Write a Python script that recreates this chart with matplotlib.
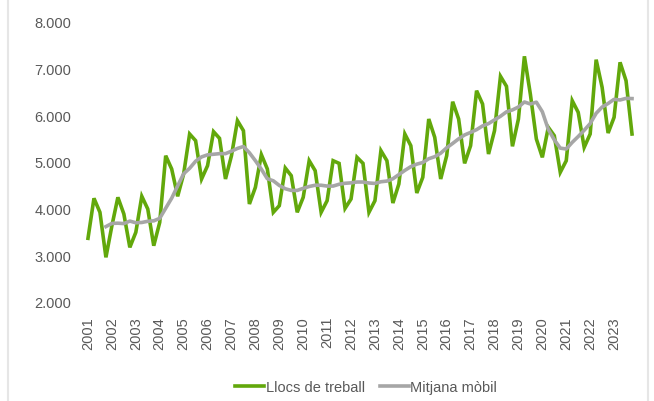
import matplotlib.pyplot as plt
from matplotlib.lines import Line2D
from matplotlib.ticker import FuncFormatter

# Quarterly series 2001 Q1 - 2023 Q4
YEARS = list(range(2001, 2024))

LLOCS = [
    3365, 4222, 3922, 2957,  # 2001
    3635, 4243, 3886, 3171,  # 2002
    3493, 4265, 3993, 3206,  # 2003
    3707, 5135, 4850, 4265,  # 2004
    4743, 5600, 5457, 4636,  # 2005
    4921, 5650, 5507, 4636,  # 2006
    5135, 5885, 5671, 4100,  # 2007
    4457, 5157, 4850, 3922,  # 2008
    4064, 4871, 4707, 3922,  # 2009
    4243, 5028, 4814, 3922,  # 2010
    4171, 5028, 4971, 4007,  # 2011
    4207, 5100, 4971, 3922,  # 2012
    4171, 5243, 5028, 4121,  # 2013
    4529, 5600, 5350, 4336,  # 2014
    4671, 5921, 5529, 4636,  # 2015
    5135, 6292, 5921, 4971,  # 2016
    5350, 6528, 6243, 5171,  # 2017
    5671, 6836, 6622, 5336,  # 2018
    5921, 7265, 6450, 5493,  # 2019
    5100, 5743, 5564, 4779,  # 2020
    5028, 6314, 6064, 5314,  # 2021
    5600, 7193, 6600, 5621,  # 2022
    5957, 7136, 6743, 5600,  # 2023
]

# grey line, first value at 2001 Q4
MITJANA = [
    3616,
    3684, 3689, 3680, 3734,
    3698, 3704, 3730, 3739,
    3793, 4010, 4225, 4489,
    4748, 4865, 5016, 5109,
    5154, 5166, 5179, 5179,
    5232, 5291, 5332, 5198,
    5028, 4846, 4641, 4597,
    4498, 4427, 4391, 4391,
    4436, 4475, 4502, 4502,
    4484, 4484, 4523, 4544,
    4553, 4571, 4571, 4550,
    4541, 4577, 4591, 4641,
    4730, 4820, 4900, 4954,
    4989, 5070, 5114, 5189,
    5305, 5398, 5496, 5580,
    5634, 5693, 5773, 5823,
    5903, 5980, 6075, 6116,
    6179, 6286, 6243, 6282,
    6077, 5697, 5475, 5297,
    5279, 5421, 5546, 5680,
    5823, 6043, 6177, 6254,
    6343, 6329, 6364, 6359,
]

GREEN = "#62A80B"
GREY = "#A6A6A6"
TEXT = "#595959"

plt.rcParams["font.family"] = ["Liberation Sans", "DejaVu Sans"]

fig = plt.figure(figsize=(6.54, 4.02), dpi=100)
ax = fig.add_axes([85 / 654, 99 / 402, 550 / 654, 280 / 402])

x_all = list(range(len(LLOCS)))
x_avg = x_all[len(LLOCS) - len(MITJANA):]

ax.plot(x_all, LLOCS, color=GREEN, lw=2.6, solid_joinstyle="miter",
        label="Llocs de treball")
ax.plot(x_avg, MITJANA, color=GREY, lw=2.6, label="Mitjana mòbil")

ax.set_xlim(-0.5, len(LLOCS) - 0.5)
ax.set_ylim(2000, 8000)
ax.set_yticks(range(2000, 8001, 1000))
ax.yaxis.set_major_formatter(
    FuncFormatter(lambda v, _: f"{int(v):,}".replace(",", ".")))
ax.set_xticks([4 * i for i in range(len(YEARS))])
ax.set_xticklabels([str(y) for y in YEARS], rotation=90)

for s in ax.spines.values():
    s.set_visible(False)
ax.tick_params(axis="y", length=0, pad=10, labelsize=10.5, labelcolor=TEXT)
ax.tick_params(axis="x", length=0, pad=10, labelsize=10.5, labelcolor=TEXT)

leg = fig.legend(loc="center", bbox_to_anchor=(0.56, 0.035), ncol=2,
                 frameon=False, fontsize=10.5, handlelength=2.0,
                 handletextpad=0.1, columnspacing=1.0)
for t in leg.get_texts():
    t.set_color(TEXT)

# faint chart border on both sides
for xf in (8 / 654, 647.5 / 654):
    fig.add_artist(Line2D([xf, xf], [0, 1], transform=fig.transFigure,
                          color="#E6E6E6", lw=1.5))

fig.savefig("out.png", dpi=100)
